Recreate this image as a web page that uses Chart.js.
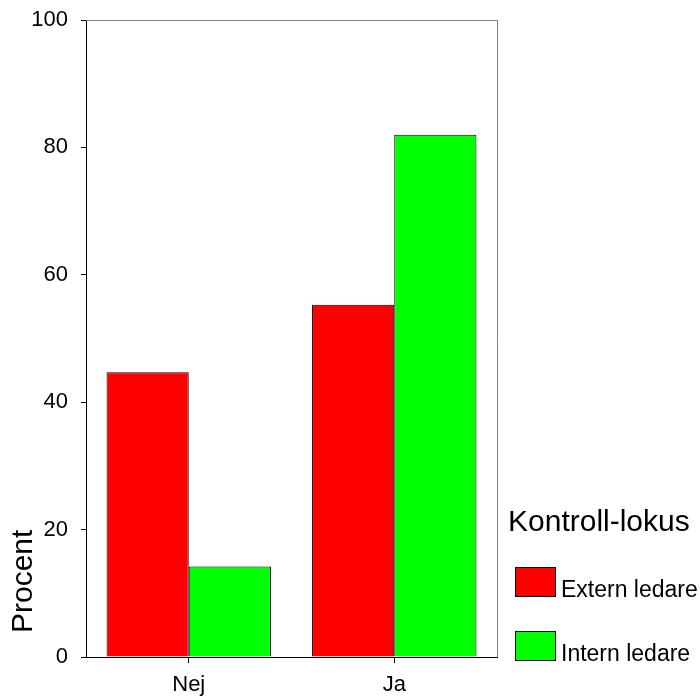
<!DOCTYPE html>
<html>
<head>
<meta charset="utf-8">
<script src="https://cdn.jsdelivr.net/npm/chart.js@4"></script>
<style>
  html, body { margin: 0; padding: 0; background: #fff; }
  #wrap { width: 700px; height: 698px; }
</style>
</head>
<body>
<div id="wrap"><canvas id="chart" width="700" height="698"></canvas></div>
<script>
const categories = ['Nej', 'Ja'];
const seriesNames = ['Extern ledare', 'Intern ledare'];
const externValues = [44.7, 55.3];
const internValues = [14.2, 82.0];
const yTicks = [0, 20, 40, 60, 80, 100];
const legendTitle = 'Kontroll-lokus';
const yTitle = 'Procent';

const FONT = '"Liberation Sans", Arial, sans-serif';

// frame lines (top / right) + legend + rotated y title
const extras = {
    id: 'extras',
    afterDraw(chart) {
        const { ctx, chartArea: a } = chart;
        ctx.save();
        ctx.strokeStyle = '#808080';
        ctx.lineWidth = 1;
        ctx.beginPath();
        ctx.moveTo(a.left, a.top + 0.5);
        ctx.lineTo(a.right + 0.5, a.top + 0.5);
        ctx.lineTo(a.right + 0.5, a.bottom);
        ctx.stroke();

        // y axis title
        ctx.fillStyle = '#000';
        ctx.font = '30px ' + FONT;
        ctx.translate(32, 633);
        ctx.rotate(-Math.PI / 2);
        ctx.textAlign = 'left';
        ctx.textBaseline = 'alphabetic';
        ctx.fillText(yTitle, 0, 0);
        ctx.restore();

        // legend
        ctx.save();
        ctx.fillStyle = '#000';
        ctx.font = '30px ' + FONT;
        ctx.textBaseline = 'alphabetic';
        ctx.fillText(legendTitle, 508, 531);
        ctx.font = '23px ' + FONT;
        chart.data.datasets.forEach((ds, i) => {
            const y = 567 + i * 64;
            ctx.fillStyle = ds.backgroundColor;
            ctx.fillRect(515, y, 41, 30);
            ctx.strokeStyle = '#000';
            ctx.strokeRect(515.5, y + 0.5, 40, 29);
            ctx.fillStyle = '#000';
            ctx.fillText(ds.label, 561, y + 30);
        });
        ctx.restore();
    }
};

new Chart(document.getElementById('chart'), {
    type: 'bar',
    data: {
        labels: categories,
        datasets: [
            { label: seriesNames[0], data: externValues, backgroundColor: '#ff0000', borderColor: '#000', borderWidth: 1 },
            { label: seriesNames[1], data: internValues, backgroundColor: '#00ff00', borderColor: '#000', borderWidth: 1 }
        ]
    },
    options: {
        responsive: false,
        animation: false,
        layout: { padding: { top: 20, right: 203, left: 0, bottom: 0 } },
        datasets: { bar: { categoryPercentage: 0.8, barPercentage: 1.0 } },
        plugins: { legend: { display: false }, tooltip: { enabled: false } },
        scales: {
            x: {
                offset: true,
                grid: { offset: false, drawOnChartArea: false, tickLength: 6, color: '#000' },
                border: { color: '#000', width: 1 },
                ticks: { color: '#000', font: { family: FONT, size: 22 }, padding: 9 },
                afterFit(scale) {
                    scale.height = 41;
                    scale.paddingLeft = 0;
                    scale.paddingRight = 0;
                }
            },
            y: {
                min: 0,
                max: 100,
                afterBuildTicks(scale) { scale.ticks = yTicks.map(v => ({ value: v })); },
                grid: { drawOnChartArea: false, tickLength: 5, color: '#000' },
                border: { color: '#000', width: 1 },
                ticks: { color: '#000', font: { family: FONT, size: 22 }, padding: 13 },
                afterFit(scale) {
                    scale.width = 86;
                    scale.paddingTop = 0;
                    scale.paddingBottom = 0;
                }
            }
        }
    },
    plugins: [extras]
});
</script>
</body>
</html>
